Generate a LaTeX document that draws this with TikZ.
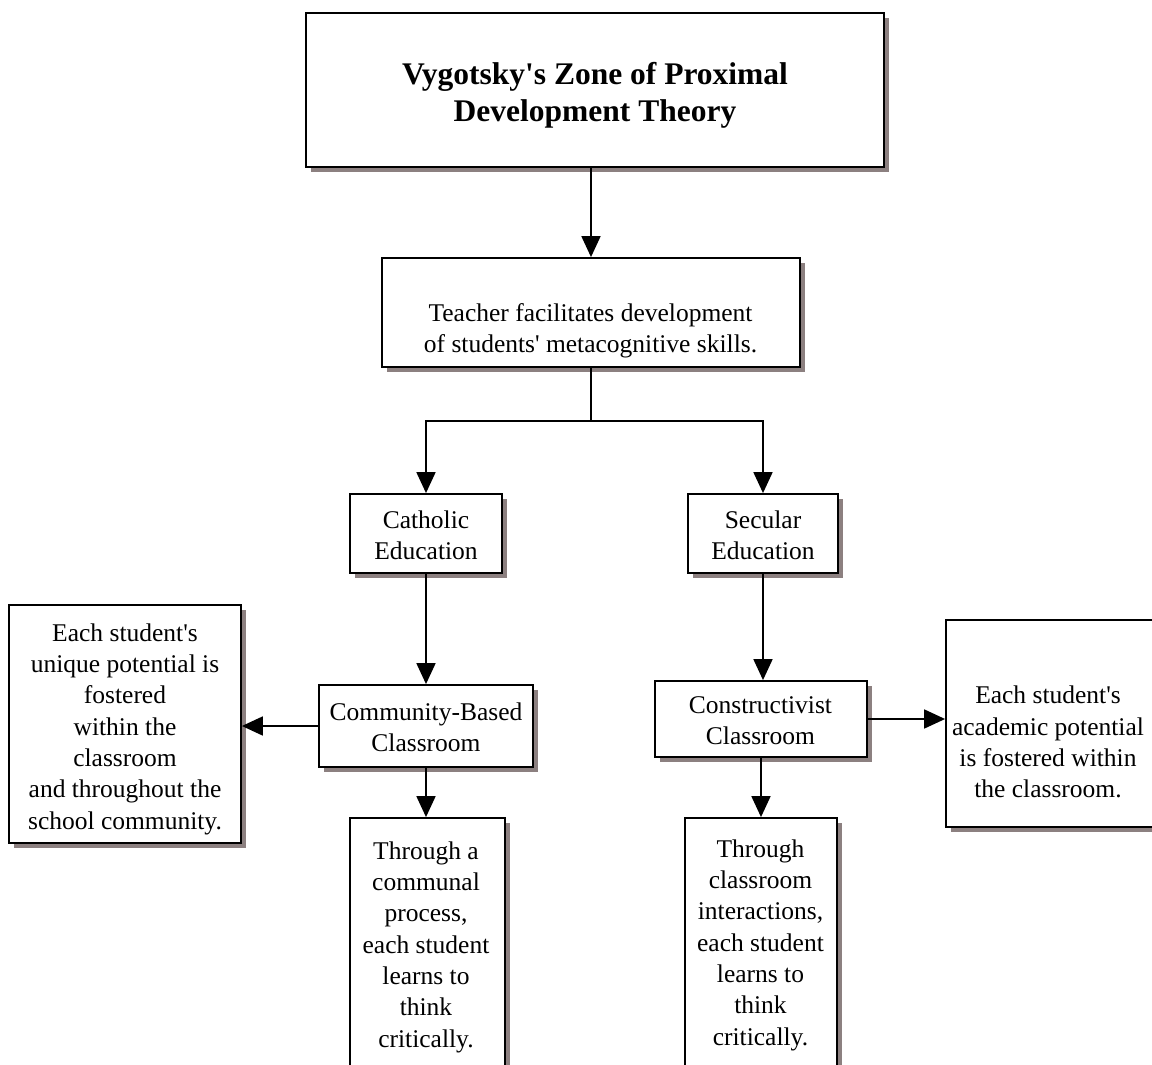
\documentclass[tikz,border=0pt]{standalone}
\usepackage{fontspec}
\setmainfont{Liberation Serif}
\usetikzlibrary{arrows.meta,shadows}
\definecolor{shadowc}{RGB}{140,128,128}
\newcommand{\aq}{\textquotesingle}
\begin{document}
\begin{tikzpicture}[x=1pt,y=-1pt,
  box/.style={draw=black, line width=1.8pt, fill=white, rectangle, inner sep=0pt,
    drop shadow={shadow xshift=5pt, shadow yshift=-5pt, fill=shadowc, opacity=1}},
  txt/.style={font=\fontsize{25.5}{31.3}\selectfont, align=center, inner sep=0pt},
  ttl/.style={font=\bfseries\fontsize{31.5}{37}\selectfont, align=center, inner sep=0pt},
  conn/.style={line width=1.8pt, -{Triangle[length=21pt,width=19pt]}}]
\useasboundingbox (0,0) rectangle (1152,1065);

\node[box, minimum width=578, minimum height=154,
  label={[ttl, yshift=-5pt]center:{Vygotsky\aq s Zone of Proximal\\Development Theory}}]
  (title) at (595,90) {};
\node[box, minimum width=418, minimum height=109,
  label={[txt, xshift=-0.5pt, yshift=-18pt]center:{Teacher facilitates development\\of students\aq{} metacognitive skills.}}]
  (teacher) at (591,312.5) {};
\node[box, minimum width=152, minimum height=79,
  label={[txt, yshift=-2pt]center:{Catholic\\Education}}] (cath) at (426,533.5) {};
\node[box, minimum width=150, minimum height=79,
  label={[txt, yshift=-2pt]center:{Secular\\Education}}] (sec) at (763,533.5) {};
\node[box, minimum width=214, minimum height=82,
  label={[txt, yshift=-1pt]center:{Community-Based\\Classroom}}] (comm) at (426,726) {};
\node[box, minimum width=212, minimum height=76,
  label={[txt, xshift=-0.5pt, yshift=-2pt]center:{Constructivist\\Classroom}}] (cons) at (761,719) {};
\node[box, minimum width=232, minimum height=238,
  label={[txt, yshift=-5pt]center:{Each student\aq s\\unique potential is\\fostered\\ within the\\classroom\\and throughout the\\school community.}}]
  (left) at (125,724) {};
\node[box, minimum width=214, minimum height=207,
  label={[txt, xshift=-5pt, yshift=-18.5pt]center:{Each student\aq s\\academic potential\\is fostered within\\the classroom.}}]
  (right) at (1053,723.5) {};
\node[box, minimum width=155, minimum height=262,
  label={[txt, xshift=-1.5pt, yshift=2pt]center:{Through a\\communal\\process,\\each student\\learns to\\think\\critically.}}]
  (thra) at (427.5,949) {};
\node[box, minimum width=152, minimum height=262,
  label={[txt, xshift=-0.5pt, yshift=4pt]center:{Through\\classroom\\interactions,\\each student\\learns to\\think\\critically.}}]
  (thrc) at (761,949) {};

\draw[conn] (title.south -| teacher.north) -- (teacher.north);
\draw[line width=1.8pt] (teacher.south) -- ++(0,53) coordinate (split);
\draw[conn] (split) -| (cath.north);
\draw[conn] (split) -| (sec.north);
\draw[conn] (cath.south) -- (comm.north);
\draw[conn] (sec.south) -- (sec.south |- cons.north);
\draw[conn] (comm.west) -- (comm.west -| left.east);
\draw[conn] (cons.east) -- (cons.east -| right.west);
\draw[conn] (comm.south) -- (comm.south |- thra.north);
\draw[conn] (cons.south) -- (cons.south |- thrc.north);
\end{tikzpicture}
\end{document}
